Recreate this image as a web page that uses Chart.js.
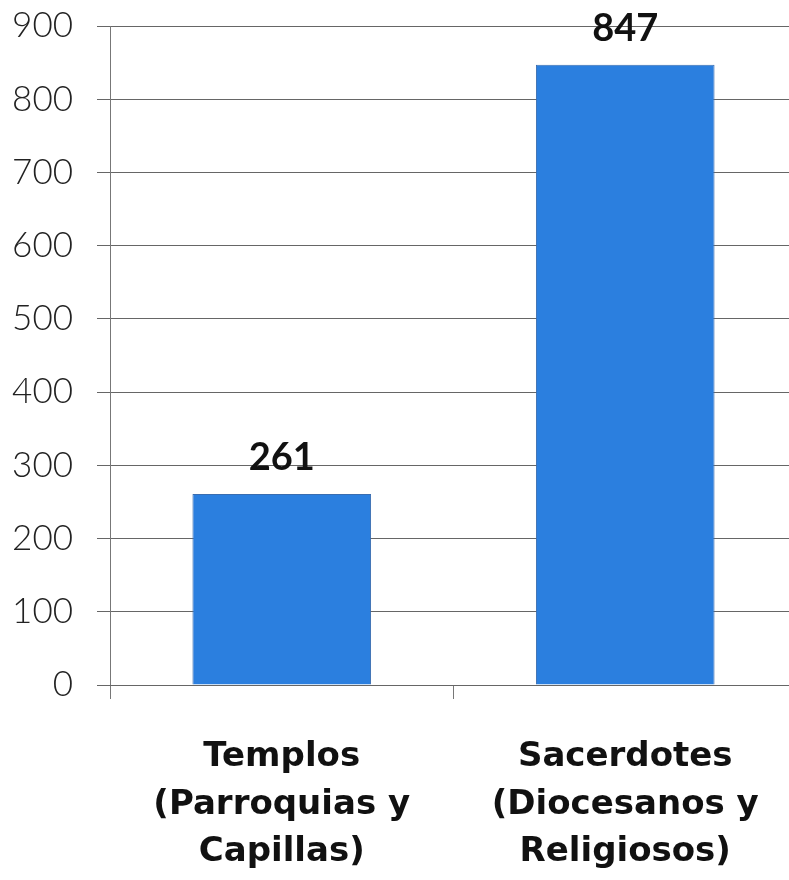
<!DOCTYPE html>
<html>
<head>
<meta charset="utf-8">
<script src="https://cdn.jsdelivr.net/npm/chart.js@4.4.1/dist/chart.umd.min.js"></script>
<style>
  html, body { margin: 0; padding: 0; background: #fff; }
  #wrap { width: 789px; height: 880px; overflow: hidden; position: relative; }
  #inner { width: 797px; height: 899px; margin-top: -19px; }
</style>
</head>
<body>
<div id="wrap"><div id="inner"><canvas id="barInfo"></canvas></div></div>
<script>
var categorias = [
  ["Templos", "(Parroquias y", "Capillas)"],
  ["Sacerdotes", "(Diocesanos y", "Religiosos)"]
];
var valores = [261, 847];
var ejeY = [0, 100, 200, 300, 400, 500, 600, 700, 800, 900];

// dibuja el valor encima de cada barra
var etiquetas = {
  id: 'etiquetas',
  afterDatasetsDraw: function(chart) {
    var ctx = chart.ctx;
    var meta = chart.getDatasetMeta(0);
    ctx.save();
    ctx.fillStyle = '#111';
    ctx.font = 'bold 38px Lato';
    ctx.textAlign = 'center';
    ctx.textBaseline = 'middle';
    meta.data.forEach(function(bar, i) {
      ctx.fillText(valores[i], bar.x, bar.y - 36);
    });
    ctx.restore();
  }
};

var ctx = document.getElementById("barInfo").getContext('2d');
var barChart = new Chart(ctx, {
  type: 'bar',
  plugins: [etiquetas],
  data: {
    labels: categorias,
    datasets: [{
      label: '',
      data: valores,
      backgroundColor: "#2B7FDF",
      borderColor: "#3A6DB0",
      borderWidth: 1,
      categoryPercentage: 1,
      barPercentage: 0.52
    }]
  },
  options: {
    responsive: true,
    maintainAspectRatio: false,
    animation: false,
    layout: { padding: { top: -4, left: 0, right: 0, bottom: 0 } },
    plugins: {
      legend: { display: false },
      tooltip: { enabled: false }
    },
    scales: {
      y: {
        min: ejeY[0],
        max: ejeY[ejeY.length - 1],
        afterBuildTicks: function(scale) {
          scale.ticks = ejeY.map(function(v) { return { value: v }; });
        },
        afterFit: function(scale) { scale.width = 110; },
        grid: { color: '#666', lineWidth: 1, tickLength: 13 },
        border: { color: '#777', width: 1 },
        ticks: {
          color: '#222',
          padding: 24,
          font: { family: 'Lato', weight: 300, size: 35 }
        }
      },
      x: {
        afterFit: function(scale) { scale.height = 195; },
        grid: { drawOnChartArea: false, color: '#777', tickLength: 14 },
        border: { color: '#666', width: 1 },
        ticks: {
          color: '#111',
          padding: 35,
          font: { family: 'DejaVu Sans', weight: 'bold', size: 34, lineHeight: 1.39 }
        }
      }
    }
  }
});
</script>
</body>
</html>
